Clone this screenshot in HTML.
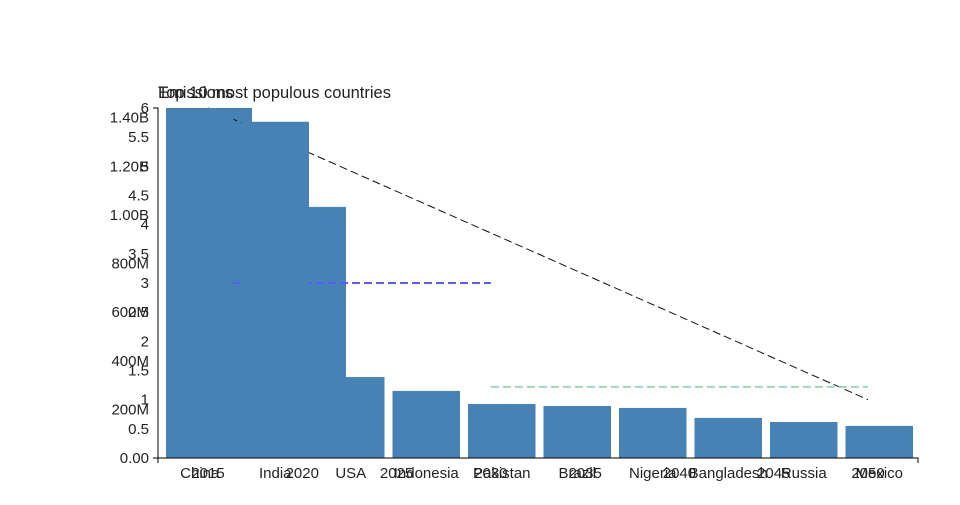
<!DOCTYPE html>
<html><head><meta charset="utf-8">
<style>
html,body{margin:0;padding:0;background:#fff;}
svg text{font-family:"Liberation Sans",sans-serif;fill:#222;}
</style></head>
<body>
<svg id="chart" width="960" height="500" xmlns="http://www.w3.org/2000/svg">
<g id="ghost"></g>
<g id="lines"></g>
<g id="bars"></g>
<g id="axes"></g>
<text x="158" y="98" font-size="16.5">Top 10 most populous countries</text>
<text x="158" y="98" font-size="16.5">Emissions</text>
</svg>
<script>
const countries = ["China","India","USA","Indonesia","Pakistan","Brazil","Nigeria","Bangladesh","Russia","Mexico"];
const population = [1440,1383,333,276,222,214,206,165,148,132];
const ghostCountries = ["China","India","USA"];
const ghostPopulation = [1440,1383,1033];
const popTicks = [0,200,400,600,800,1000,1200,1400];
const popTickLabels = ["0.00","200M","400M","600M","800M","1.00B","1.20B","1.40B"];
const emTicks = [0.5,1,1.5,2,2.5,3,3.5,4,4.5,5,5.5,6];
const years = [2015,2020,2025,2030,2035,2040,2045,2050];
const blackYears = [2015,2050];
const blackValues = [6.0,1.0];
const blueYears = [2015,2030];
const blueValues = [3,3];
const greenYears = [2030,2050];
const greenValues = [1.22,1.22];

const NS="http://www.w3.org/2000/svg";
function mk(tag,attrs,parent){const e=document.createElementNS(NS,tag);for(const k in attrs)e.setAttribute(k,attrs[k]);parent.appendChild(e);return e;}
const X0=158,X1=913,Y0=458,YT=108;
const band=(X1-X0)/countries.length;
const xBand=i=>X0+i*band;
const yPop=v=>Y0-v/1440*(Y0-YT);
const yEm=v=>Y0-v/6*(Y0-YT);
const xYear=y=>208+(y-2015)*(868-208)/35;

const ghost=document.getElementById('ghost');
let gx=X0+8;
const ghostW=[86,56,38];
ghostCountries.forEach((c,i)=>{
  const r=mk('rect',{x:gx,y:yPop(ghostPopulation[i]),width:ghostW[i],height:Y0-yPop(ghostPopulation[i]),fill:'#4682b4'},ghost);
  
  
  gx+=ghostW[i];
});

const lg=document.getElementById('lines');
function line(xs,vs,color,name,w){
  const p=mk('polyline',{points:xs.map((y,i)=>xYear(y)+','+yEm(vs[i])).join(' '),fill:'none',stroke:color,'stroke-width':w,'stroke-dasharray':'8,4'},lg);
  
  
}
line(blackYears,blackValues,'#111','emissions-line-black',1);
line(blueYears,blueValues,'#5a5aff','emissions-line-blue',2);
line(greenYears,greenValues,'#9fd9bb','emissions-line-green',2);

const bg=document.getElementById('bars');
countries.forEach((c,i)=>{
  const v=population[i];
  const r=mk('rect',{x:xBand(i)+8,y:yPop(v),width:band-8,height:Y0-yPop(v),fill:'#4682b4'},bg);
  
  
});

const ax=document.getElementById('axes');
let a=mk('path',{d:`M${X0-5},${YT}H${X0}V${Y0}H${X0-5}M${X0},${Y0}H918V${Y0+5}M${X0},${Y0}V${Y0+5}`,fill:'none',stroke:'#000','stroke-width':1},ax);


popTicks.forEach((v,i)=>{
  const t=mk('text',{x:149,y:yPop(v)+5,'font-size':15,'text-anchor':'end'},ax);
  t.textContent=popTickLabels[i];
  
  
});
emTicks.forEach(v=>{
  const t=mk('text',{x:149,y:yEm(v)+5,'font-size':15,'text-anchor':'end'},ax);
  t.textContent=String(v);
  
  
});
countries.forEach((c,i)=>{
  const t=mk('text',{x:xBand(i)+4+band/2,y:478,'font-size':15,'text-anchor':'middle'},ax);
  t.textContent=c;
  
  
});
years.forEach(y=>{
  const t=mk('text',{x:xYear(y),y:478,'font-size':15,'text-anchor':'middle'},ax);
  t.textContent=String(y);
  
  
});
</script>
</body></html>
